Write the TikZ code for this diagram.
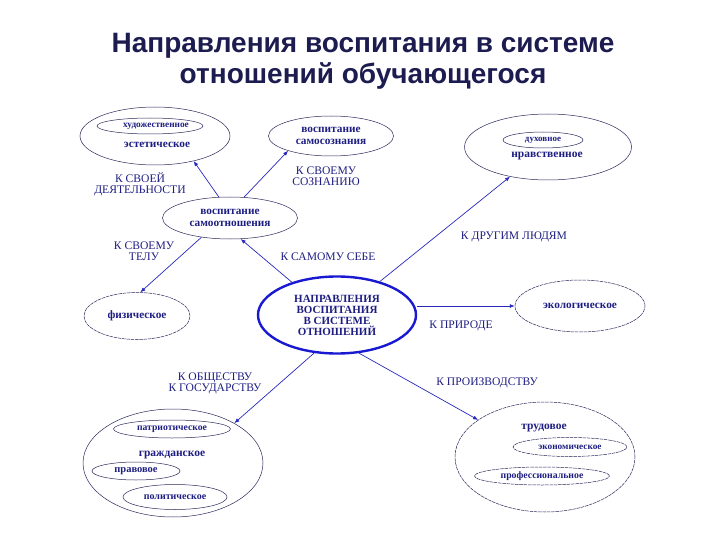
\documentclass[tikz,border=0pt]{standalone}
\usepackage{fontspec}
\setmainfont{Liberation Serif}
\newfontfamily\titlefont{Liberation Sans}
\usetikzlibrary{shapes.geometric,arrows.meta}
\definecolor{navy}{RGB}{30,30,130}
\definecolor{titlec}{RGB}{28,28,80}
\definecolor{arrc}{RGB}{40,40,190}
\definecolor{rim}{RGB}{40,40,90}
\definecolor{bigrim}{RGB}{25,25,210}
\tikzset{
  ell/.style={ellipse,draw=rim,line width=0.5pt,inner sep=0pt,text=navy,font=\bfseries\fontsize{11.3}{11.5}\selectfont,align=center},
  dsh/.style={dash pattern=on 3.5pt off 0.8pt},
  small/.style={text=navy,font=\bfseries\fontsize{11.3}{12}\selectfont},
  lab/.style={text=navy,font=\fontsize{11.6}{11.2}\selectfont,align=center},
  arr/.style={draw=arrc,line width=0.7pt,-{Latex[length=5pt,width=4pt]}}
}
\begin{document}
\begin{tikzpicture}[x=1pt,y=-1pt]
\useasboundingbox (0,0) rectangle (720,540);
% title
\node[font=\titlefont\bfseries\fontsize{28}{31}\selectfont,text=titlec,align=center] (title) at (363,61) {Направления воспитания в системе\\отношений обучающегося};

% top-left group
\node[ell,minimum width=150,minimum height=58] (aest) at (155,136) {};
\node[ell,minimum width=106,minimum height=16] (art) at (150,126) {};
\node[text=navy,font=\bfseries\fontsize{9.3}{10}\selectfont] (arttext) at (156,126) {художественное};
\node[small] (aestt) at (157,145) {эстетическое};

% self-consciousness
\node[ell,minimum width=125,minimum height=40] (scons) at (331,136) {воспитание\\самосознания};

% self-attitude
\node[ell,minimum width=135,minimum height=42] (self) at (230,218) {воспитание\\самоотношения};

% physical
\node[ell,dsh,minimum width=106,minimum height=47] (phys) at (137,316) {физическое};

% center
\node[ellipse,draw=bigrim,line width=2.4pt,minimum width=158,minimum height=77,inner sep=0pt,text=navy,align=center,font=\bfseries\fontsize{11}{11}\selectfont] (center) at (337,315) {НАПРАВЛЕНИЯ\\ВОСПИТАНИЯ\\В СИСТЕМЕ\\ОТНОШЕНИЙ};

% moral group
\node[ell,minimum width=167,minimum height=66] (moral) at (548,147) {};
\node[ell,minimum width=80,minimum height=16,font=\bfseries\fontsize{9}{10}\selectfont] (spirit) at (543,140) {духовное};
\node[small,font=\bfseries\fontsize{11.5}{12}\selectfont] (moralt) at (547,156) {нравственное};

% ecology
\node[ell,dsh,minimum width=130,minimum height=52] (eco) at (580,306) {экологическое};

% society group
\node[ell,minimum width=180,minimum height=108] (soc) at (173,463) {};
\node[ell,minimum width=117,minimum height=18,font=\bfseries\fontsize{9.7}{10}\selectfont] (patr) at (172,429) {патриотическое};
\node[small,font=\bfseries\fontsize{11.5}{12}\selectfont] (civt) at (172,455) {гражданское};
\node[ell,minimum width=88,minimum height=18,font=\bfseries\fontsize{10.5}{11}\selectfont] (law) at (136,471) {правовое};
\node[ell,minimum width=104,minimum height=25,font=\bfseries\fontsize{10}{11}\selectfont] (pol) at (175,497) {политическое};

% labor group
\node[ell,dsh,minimum width=180,minimum height=110] (labor) at (545,457) {};
\node[small,font=\bfseries\fontsize{11.5}{12}\selectfont] (labt) at (544,428) {трудовое};
\node[ell,dsh,minimum width=114,minimum height=19,font=\bfseries\fontsize{9.3}{10}\selectfont] (econ) at (570,447) {экономическое};
\node[ell,dsh,minimum width=135,minimum height=18,font=\bfseries\fontsize{9.8}{10}\selectfont] (prof) at (542,476) {профессиональное};

% labels
\node[lab] (l1) at (140,184) {К СВОЕЙ\\ДЕЯТЕЛЬНОСТИ};
\node[lab] (l2) at (326,176) {К СВОЕМУ\\СОЗНАНИЮ};
\node[lab] (l3) at (144,251) {К СВОЕМУ\\ТЕЛУ};
\node[lab] (l4) at (328,257) {К САМОМУ СЕБЕ};
\node[lab] (l5) at (514,237) {К ДРУГИМ ЛЮДЯМ};
\node[lab] (l6) at (461,326) {К ПРИРОДЕ};
\node[lab] (l7) at (215,383) {К ОБЩЕСТВУ\\К ГОСУДАРСТВУ};
\node[lab] (l8) at (487,383) {К ПРОИЗВОДСТВУ};

% arrows
\draw[arr] (self.118) -- (aest.-33);
\draw[arr] (self.56) -- (scons.199);
\draw[arr] (self.214) -- (phys.82);
\draw[arr] (center.144) -- (self.-63);
\draw[arr] (center.38) -- (moral.218);
\draw[arr] (center.east |- eco.west) -- (eco.west);
\draw[arr] (center.239) -- (soc.33);
\draw[arr] (center.-60) -- (labor.151);
\end{tikzpicture}
\end{document}
